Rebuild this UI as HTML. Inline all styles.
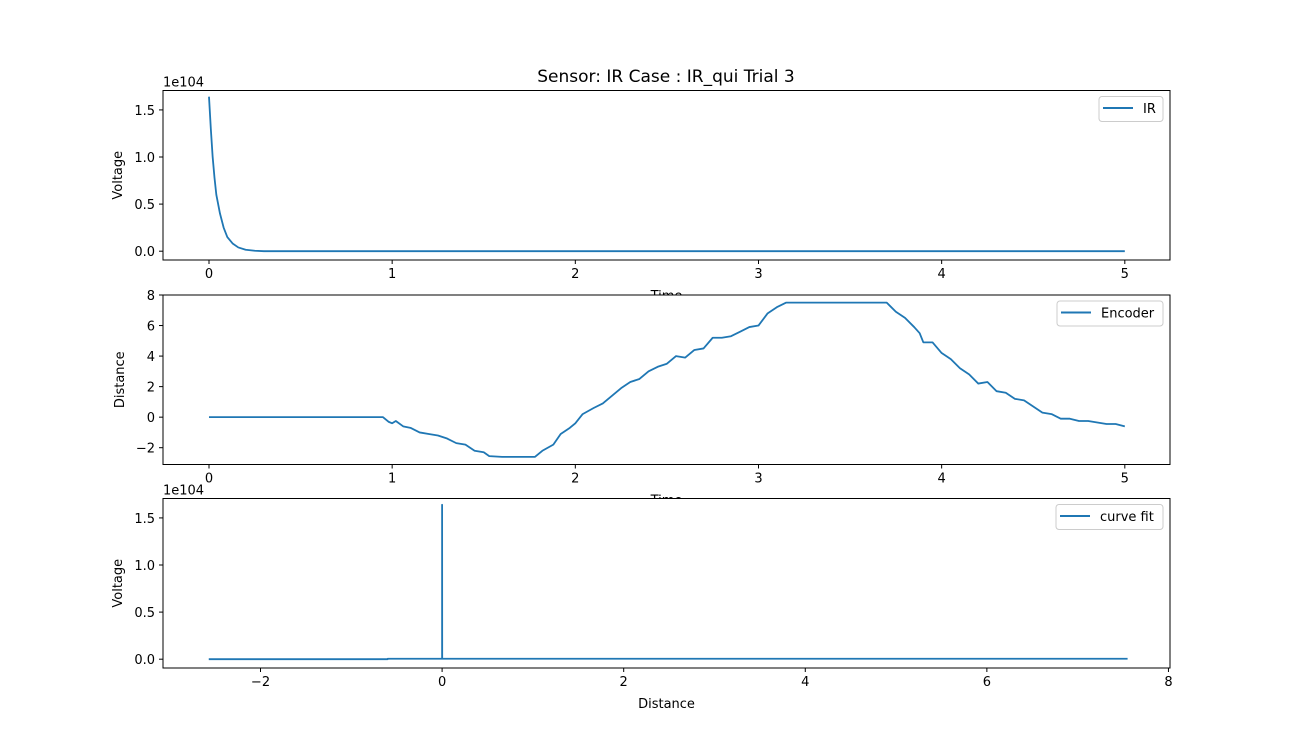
<!DOCTYPE html>
<html><head><meta charset="utf-8"><style>
html,body{margin:0;padding:0;background:#fff}
svg{display:block;font-family:"DejaVu Sans","Liberation Sans",sans-serif}
</style></head><body>
<svg id="fig" width="1300" height="750" viewBox="0 0 1300 750">
<rect width="1300" height="750" fill="#fff"/>
<text x="666" y="82" font-size="17" text-anchor="middle">Sensor: IR Case : IR_qui Trial 3</text>
<g id="plots"></g>
</svg>
<script>
// IR subplot data (voltage in units of 1e4)
const irTime = [0,0.01,0.02,0.03,0.04,0.06,0.08,0.1,0.13,0.16,0.2,0.25,0.3,1,2,3,4,5];
const irVolt = [1.64,1.3,1.0,0.78,0.6,0.4,0.25,0.15,0.08,0.04,0.015,0.005,0,0,0,0,0,0];
// Encoder subplot data
const encTime = [0,0.95,0.98,1.0,1.02,1.06,1.1,1.15,1.2,1.25,1.3,1.35,1.4,1.45,1.5,1.53,1.6,1.78,1.82,1.88,1.92,1.97,2.0,2.04,2.1,2.15,2.2,2.25,2.3,2.35,2.4,2.45,2.5,2.55,2.6,2.65,2.7,2.75,2.8,2.85,2.9,2.95,3.0,3.05,3.1,3.15,3.7,3.75,3.8,3.85,3.88,3.9,3.95,4.0,4.05,4.1,4.15,4.2,4.25,4.3,4.35,4.4,4.45,4.5,4.55,4.6,4.65,4.7,4.75,4.8,4.85,4.9,4.95,5.0];
const encDist = [0,0,-0.3,-0.4,-0.25,-0.6,-0.7,-1.0,-1.1,-1.2,-1.4,-1.7,-1.8,-2.2,-2.3,-2.55,-2.6,-2.6,-2.2,-1.8,-1.1,-0.7,-0.4,0.2,0.6,0.9,1.4,1.9,2.3,2.5,3.0,3.3,3.5,4.0,3.9,4.4,4.5,5.2,5.2,5.3,5.6,5.9,6.0,6.8,7.2,7.5,7.5,6.9,6.5,5.9,5.5,4.9,4.9,4.2,3.8,3.2,2.8,2.2,2.3,1.7,1.6,1.2,1.1,0.7,0.3,0.2,-0.1,-0.1,-0.25,-0.25,-0.35,-0.45,-0.45,-0.6];
// Curve fit subplot data
const fitDist = [-2.57,-0.6,-0.6,0,0,0.001,7.55];
const fitVolt = [0,0,0.005,0.005,1.64,0.005,0.005];
// ticks
const timeTicks = [0,1,2,3,4,5];
const irTicks = [0.0,0.5,1.0,1.5];
const encTicks = [-2,0,2,4,6,8];
const distTicks = [-2,0,2,4,6,8];

const NS="http://www.w3.org/2000/svg";
const root=document.getElementById('plots');
function el(tag,attrs,parent){const e=document.createElementNS(NS,tag);for(const k in attrs)e.setAttribute(k,attrs[k]);(parent||root).appendChild(e);return e;}
const L=163,R=1170;
function panel(cfg){
  const g=el('g',{});
  
  
  const sx=v=>L+(v-cfg.x0)/(cfg.x1-cfg.x0)*(R-L);
  const sy=v=>cfg.bot-(v-cfg.y0)/(cfg.y1-cfg.y0)*(cfg.bot-cfg.top);
  el('rect',{x:L,y:cfg.top,width:R-L,height:cfg.bot-cfg.top,fill:'#fff',stroke:'none'},g);
  let d='';
  cfg.xs.forEach((x,i)=>{d+=(i?'L':'M')+sx(x).toFixed(2)+','+sy(cfg.ys[i]).toFixed(2);});
  const line=el('path',{d:d,fill:'none',stroke:'#1f77b4','stroke-width':1.8,'stroke-linejoin':'round'},g);
  
  
  el('rect',{x:L,y:cfg.top,width:R-L,height:cfg.bot-cfg.top,fill:'none',stroke:'#000','stroke-width':1},g);
  cfg.xt.forEach(t=>{const x=sx(t);el('line',{x1:x,x2:x,y1:cfg.bot,y2:cfg.bot+4,stroke:'#000'},g);
    const tx=el('text',{x:x,y:cfg.bot+18,'font-size':13,'text-anchor':'middle'},g);tx.textContent=(t<0?'\u2212'+(-t):t);
    
    });
  cfg.yt.forEach(t=>{const y=sy(t);el('line',{x1:L-4,x2:L,y1:y,y2:y,stroke:'#000'},g);
    const tx=el('text',{x:L-8,y:y+5,'font-size':13,'text-anchor':'end'},g);tx.textContent=cfg.yfmt?t.toFixed(1):(t<0?'\u2212'+(-t):t);
    
    });
  const yl=el('text',{x:0,y:0,'font-size':13,'text-anchor':'middle',transform:`translate(${cfg.ylx},${(cfg.top+cfg.bot)/2}) rotate(-90)`},g);
  yl.textContent=cfg.ylabel;
  
  
  const xl=el('text',{x:(L+R)/2,y:cfg.bot+40,'font-size':13,'text-anchor':'middle'},g);
  xl.textContent=cfg.xlabel;
  
  
  if(cfg.exp){const ex=el('text',{x:L,y:cfg.top-4,'font-size':13},g);ex.textContent='1e104';
    
    }
  const lw=cfg.legW, bx=R-7-lw;
  const lg=el('g',{},g);
  
  
  el('rect',{x:bx,y:cfg.top+6,width:lw,height:25,rx:3,fill:'#fff',stroke:'#ccc'},lg);
  el('line',{x1:bx+4,x2:bx+34,y1:cfg.top+17.5,y2:cfg.top+17.5,stroke:'#1f77b4','stroke-width':2},lg);
  const lt=el('text',{x:bx+44,y:cfg.top+22.5,'font-size':13},lg);lt.textContent=cfg.legend;
  
  
  return g;
}
const p1=panel({name:'ir-panel',seriesName:'ir-line',top:90.5,bot:260,x0:-0.2511,x1:5.2467,y0:-0.0935,y1:1.7061,xs:irTime,ys:irVolt,xt:timeTicks,yt:irTicks,yfmt:true,ylabel:'Voltage',xlabel:'Time',ylx:122,exp:true,legend:'IR',legW:64});
const p2=panel({name:'encoder-panel',seriesName:'encoder-line',top:295,bot:464.5,x0:-0.2511,x1:5.2467,y0:-3.1,y1:8,xs:encTime,ys:encDist,xt:timeTicks,yt:encTicks,yfmt:false,ylabel:'Distance',xlabel:'Time',ylx:124,exp:false,legend:'Encoder',legW:106});
const p3=panel({name:'curve-fit-panel',seriesName:'curve-fit-line',top:498.5,bot:668,x0:-3.074,x1:8.017,y0:-0.0935,y1:1.7061,xs:fitDist,ys:fitVolt,xt:distTicks,yt:irTicks,yfmt:true,ylabel:'Voltage',xlabel:'Distance',ylx:122,exp:true,legend:'curve fit',legW:107});
</script>
</body></html>
